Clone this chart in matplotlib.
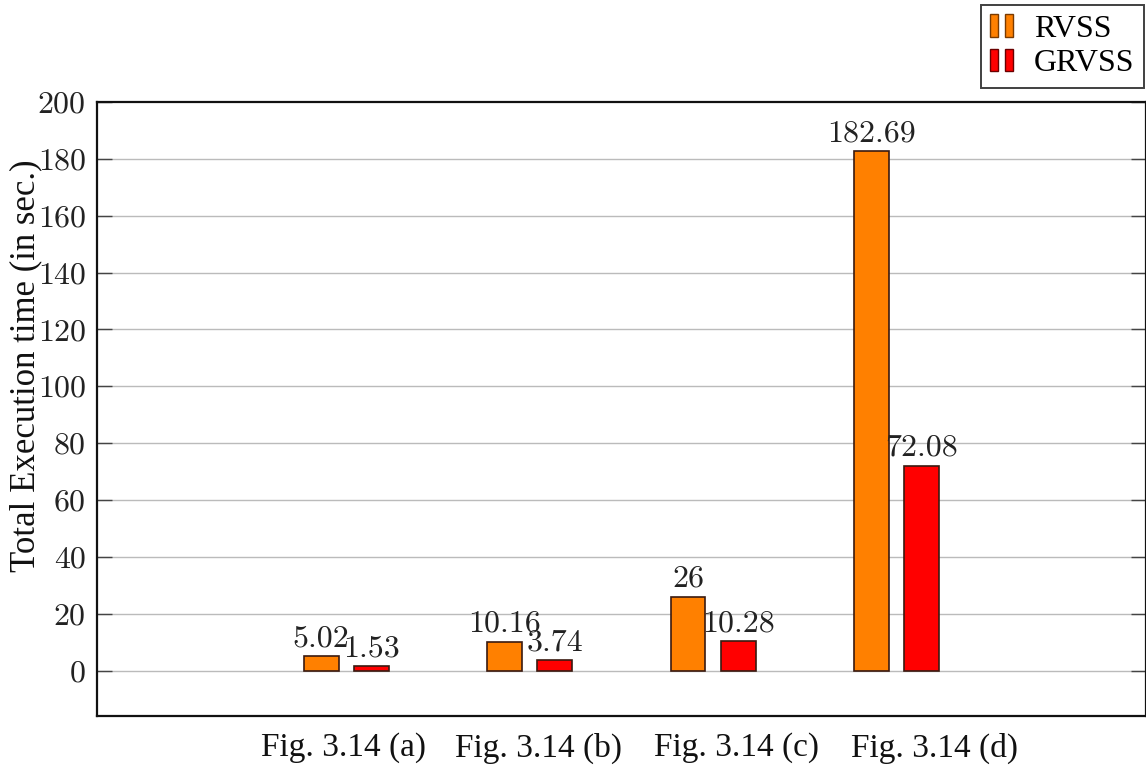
import matplotlib
matplotlib.use("Agg")
import matplotlib.pyplot as plt
import matplotlib.transforms as mtrans
import numpy as np
from matplotlib.patches import Patch
from matplotlib.legend_handler import HandlerTuple

categories = ["Fig. 3.14 (a)", "Fig. 3.14 (b)", "Fig. 3.14 (c)", "Fig. 3.14 (d)"]
rvss = [5.02, 10.16, 26, 182.69]
grvss = [1.53, 3.74, 10.28, 72.08]
rvss_labels = ["5.02", "10.16", "26", "182.69"]
grvss_labels = ["1.53", "3.74", "10.28", "72.08"]
yticks = [0, 20, 40, 60, 80, 100, 120, 140, 160, 180, 200]

ORANGE = "#FF8000"
RED = "#FF0000"
EDGE = "#3a1a10"

fig = plt.figure(figsize=(11.46, 7.69), dpi=100)
ax = fig.add_axes([0.0846, 0.0689, 0.9154, 0.7985])

x = np.arange(len(categories))
w = 0.19
off = 0.137
ax.bar(x - off, rvss, w, color=ORANGE, edgecolor=EDGE, linewidth=1.2, zorder=3)
ax.bar(x + off, grvss, w, color=RED, edgecolor=EDGE, linewidth=1.2, zorder=3)

numfont = dict(family="cmr10", size=23, color="#222222")
for xi, v, t in zip(x - off, rvss, rvss_labels):
    ax.text(xi, v + 1.3, t, ha="center", va="bottom", zorder=4, **numfont)
for xi, v, t in zip(x + off, grvss, grvss_labels):
    ax.text(xi, v + 1.3, t, ha="center", va="bottom", zorder=4, **numfont)

ax.set_xlim(-1.36, 4.36)
ax.set_ylim(-16, 200)
ax.set_yticks(yticks)
ax.set_yticklabels([str(t) for t in yticks], fontfamily="cmr10", fontsize=23, color="#222222")
ax.set_xticks(x)
ax.set_xticklabels(categories, fontfamily="Liberation Serif", fontsize=24, color="#111111")
ax.tick_params(axis="x", length=0, pad=12)
ax.tick_params(axis="y", direction="in", length=11, width=1.0, color="#444444",
               right=True, left=True, pad=8)
# slight horizontal shifts of category labels as in the reference
shifts_px = [-3, 9, 23, 38]
for lab, s in zip(ax.get_xticklabels(), shifts_px):
    lab.set_transform(lab.get_transform() + mtrans.ScaledTranslation(s / 100, 0, fig.dpi_scale_trans))

for t in yticks[:-1]:
    ax.axhline(t, color="#bbbbbb", linewidth=1.0, zorder=1)
for s in ax.spines.values():
    s.set_linewidth(1.6)
    s.set_color("#111111")

ax.set_ylabel("Total Execution time (in sec.)", fontfamily="Liberation Serif",
              fontsize=25, color="#111111")
ax.yaxis.set_label_coords(-0.052, 0.57)

h1 = (Patch(facecolor=ORANGE, edgecolor="#7a3a00"), Patch(facecolor=ORANGE, edgecolor="#7a3a00"))
h2 = (Patch(facecolor=RED, edgecolor="#6a0000"), Patch(facecolor=RED, edgecolor="#6a0000"))
leg = fig.legend([h1, h2], ["RVSS", "GRVSS"],
                 handler_map={tuple: HandlerTuple(ndivide=None, pad=0.22)},
                 loc="upper right", bbox_to_anchor=(0.9985, 0.994),
                 prop=dict(family="Liberation Serif", size=23),
                 frameon=True, fancybox=False, edgecolor="#111111",
                 handlelength=0.72, handleheight=0.72, handletextpad=0.65,
                 borderpad=0.3, labelspacing=0.15, borderaxespad=0)
leg.get_frame().set_linewidth(1.4)

fig.savefig("out.png", dpi=100)
